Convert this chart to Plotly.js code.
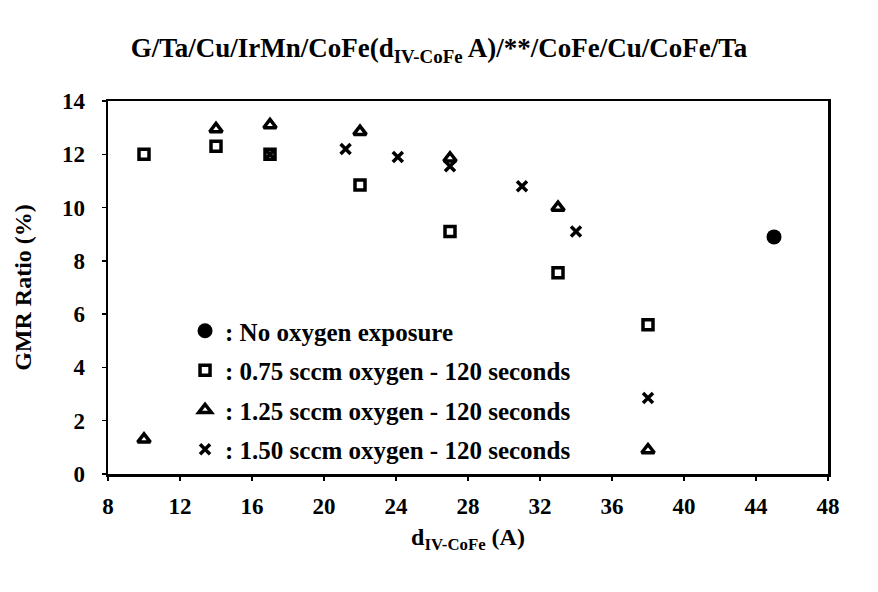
<!DOCTYPE html>
<html>
<head>
<meta charset="utf-8">
<script src="https://cdn.plot.ly/plotly-3.0.1.min.js"></script>
<style>html,body{margin:0;padding:0;background:#fff;}#chart{width:878px;height:592px;}</style>
</head>
<body>
<div id="chart"></div>
<script>
// Data
const seriesNames = [
  ": No oxygen exposure",
  ": 0.75 sccm oxygen - 120 seconds",
  ": 1.25 sccm oxygen - 120 seconds",
  ": 1.50 sccm oxygen - 120 seconds"
];
const noOxX = [45];
const noOxY = [8.9];
const o075X = [10, 14, 17, 22, 27, 33, 38];
const o075Y = [12.0, 12.3, 12.0, 10.85, 9.1, 7.55, 5.6];
const o125X = [10, 14, 17, 22, 27, 33, 38];
const o125Y = [1.3, 12.95, 13.1, 12.85, 11.85, 10.0, 0.9];
const o150X = [17, 21.2, 24.1, 27, 31, 34, 38];
const o150Y = [12.0, 12.2, 11.9, 11.55, 10.8, 9.1, 2.85];
const xTicks = [8, 12, 16, 20, 24, 28, 32, 36, 40, 44, 48];
const yTicks = [0, 2, 4, 6, 8, 10, 12, 14];

const FONT = "'Liberation Serif', 'Times New Roman', serif";

const traces = [
  {x: noOxX, y: noOxY, name: seriesNames[0], legendgroup: 'a', mode: 'markers', type: 'scatter',
   marker: {symbol: 'circle', size: 15, color: '#000'}},
  {x: o075X, y: o075Y, name: seriesNames[1], legendgroup: 'b', mode: 'markers', type: 'scatter',
   marker: {symbol: 'square-open', size: 10, color: '#000', line: {width: 3.5, color: '#000'}}},
  {x: o125X, y: o125Y, name: seriesNames[2], legendgroup: 'c', mode: 'markers', type: 'scatter',
   marker: {symbol: 'triangle-up-open', size: 11, color: '#000', line: {width: 3.5, color: '#000'}}},
  {x: o150X, y: o150Y, name: seriesNames[3], legendgroup: 'd', mode: 'markers', type: 'scatter',
   marker: {symbol: 'x-thin-open', size: 10, color: '#000', line: {width: 3.5, color: '#000'}}}
];

const layout = {
  width: 878, height: 592,
  paper_bgcolor: '#fff', plot_bgcolor: '#fff',
  margin: {l: 108, r: 50, t: 101, b: 118, pad: 0},
  font: {family: FONT, color: '#000', size: 20, weight: 'bold'},
  title: {
    text: 'G/Ta/Cu/IrMn/CoFe(d<sub>IV-CoFe</sub> A)/**/CoFe/Cu/CoFe/Ta',
    font: {family: FONT, size: 27, color: '#000', weight: 'bold'},
    xref: 'container', x: 0.5, xanchor: 'center',
    yref: 'container', y: 0.919, yanchor: 'middle'
  },
  xaxis: {
    range: [8, 48], tickvals: xTicks, ticktext: xTicks.map(String),
    showgrid: false, zeroline: false,
    showline: true, linecolor: '#000', linewidth: 2.5, mirror: true,
    ticks: 'outside', ticklen: 4, tickcolor: '#000', tickwidth: 1.5,
    ticklabelstandoff: 6,
    tickfont: {family: FONT, size: 23, color: '#000', weight: 'bold'},
    title: {text: 'd<sub>IV-CoFe</sub> (A)', font: {family: FONT, size: 24, color: '#000', weight: 'bold'}, standoff: 10}
  },
  yaxis: {
    range: [0, 14], tickvals: yTicks, ticktext: yTicks.map(String),
    showgrid: false, zeroline: false,
    showline: true, linecolor: '#000', linewidth: 2.5, mirror: true,
    ticks: 'outside', ticklen: 4, tickcolor: '#000', tickwidth: 1.5,
    ticklabelstandoff: 12,
    tickfont: {family: FONT, size: 23, color: '#000', weight: 'bold'},
    title: {text: 'GMR Ratio (%)', font: {family: FONT, size: 24, color: '#000', weight: 'bold'}, standoff: 24}
  },
  showlegend: true,
  legend: {
    x: 0.107, xanchor: 'left', y: 0.445, yanchor: 'top',
    bgcolor: 'rgba(0,0,0,0)', borderwidth: 0,
    font: {family: FONT, size: 25, color: '#000', weight: 'bold'},
    traceorder: 'grouped', tracegroupgap: 4, itemwidth: 30
  }
};

Plotly.newPlot('chart', traces, layout, {displayModeBar: false, staticPlot: true});
</script>
</body>
</html>
